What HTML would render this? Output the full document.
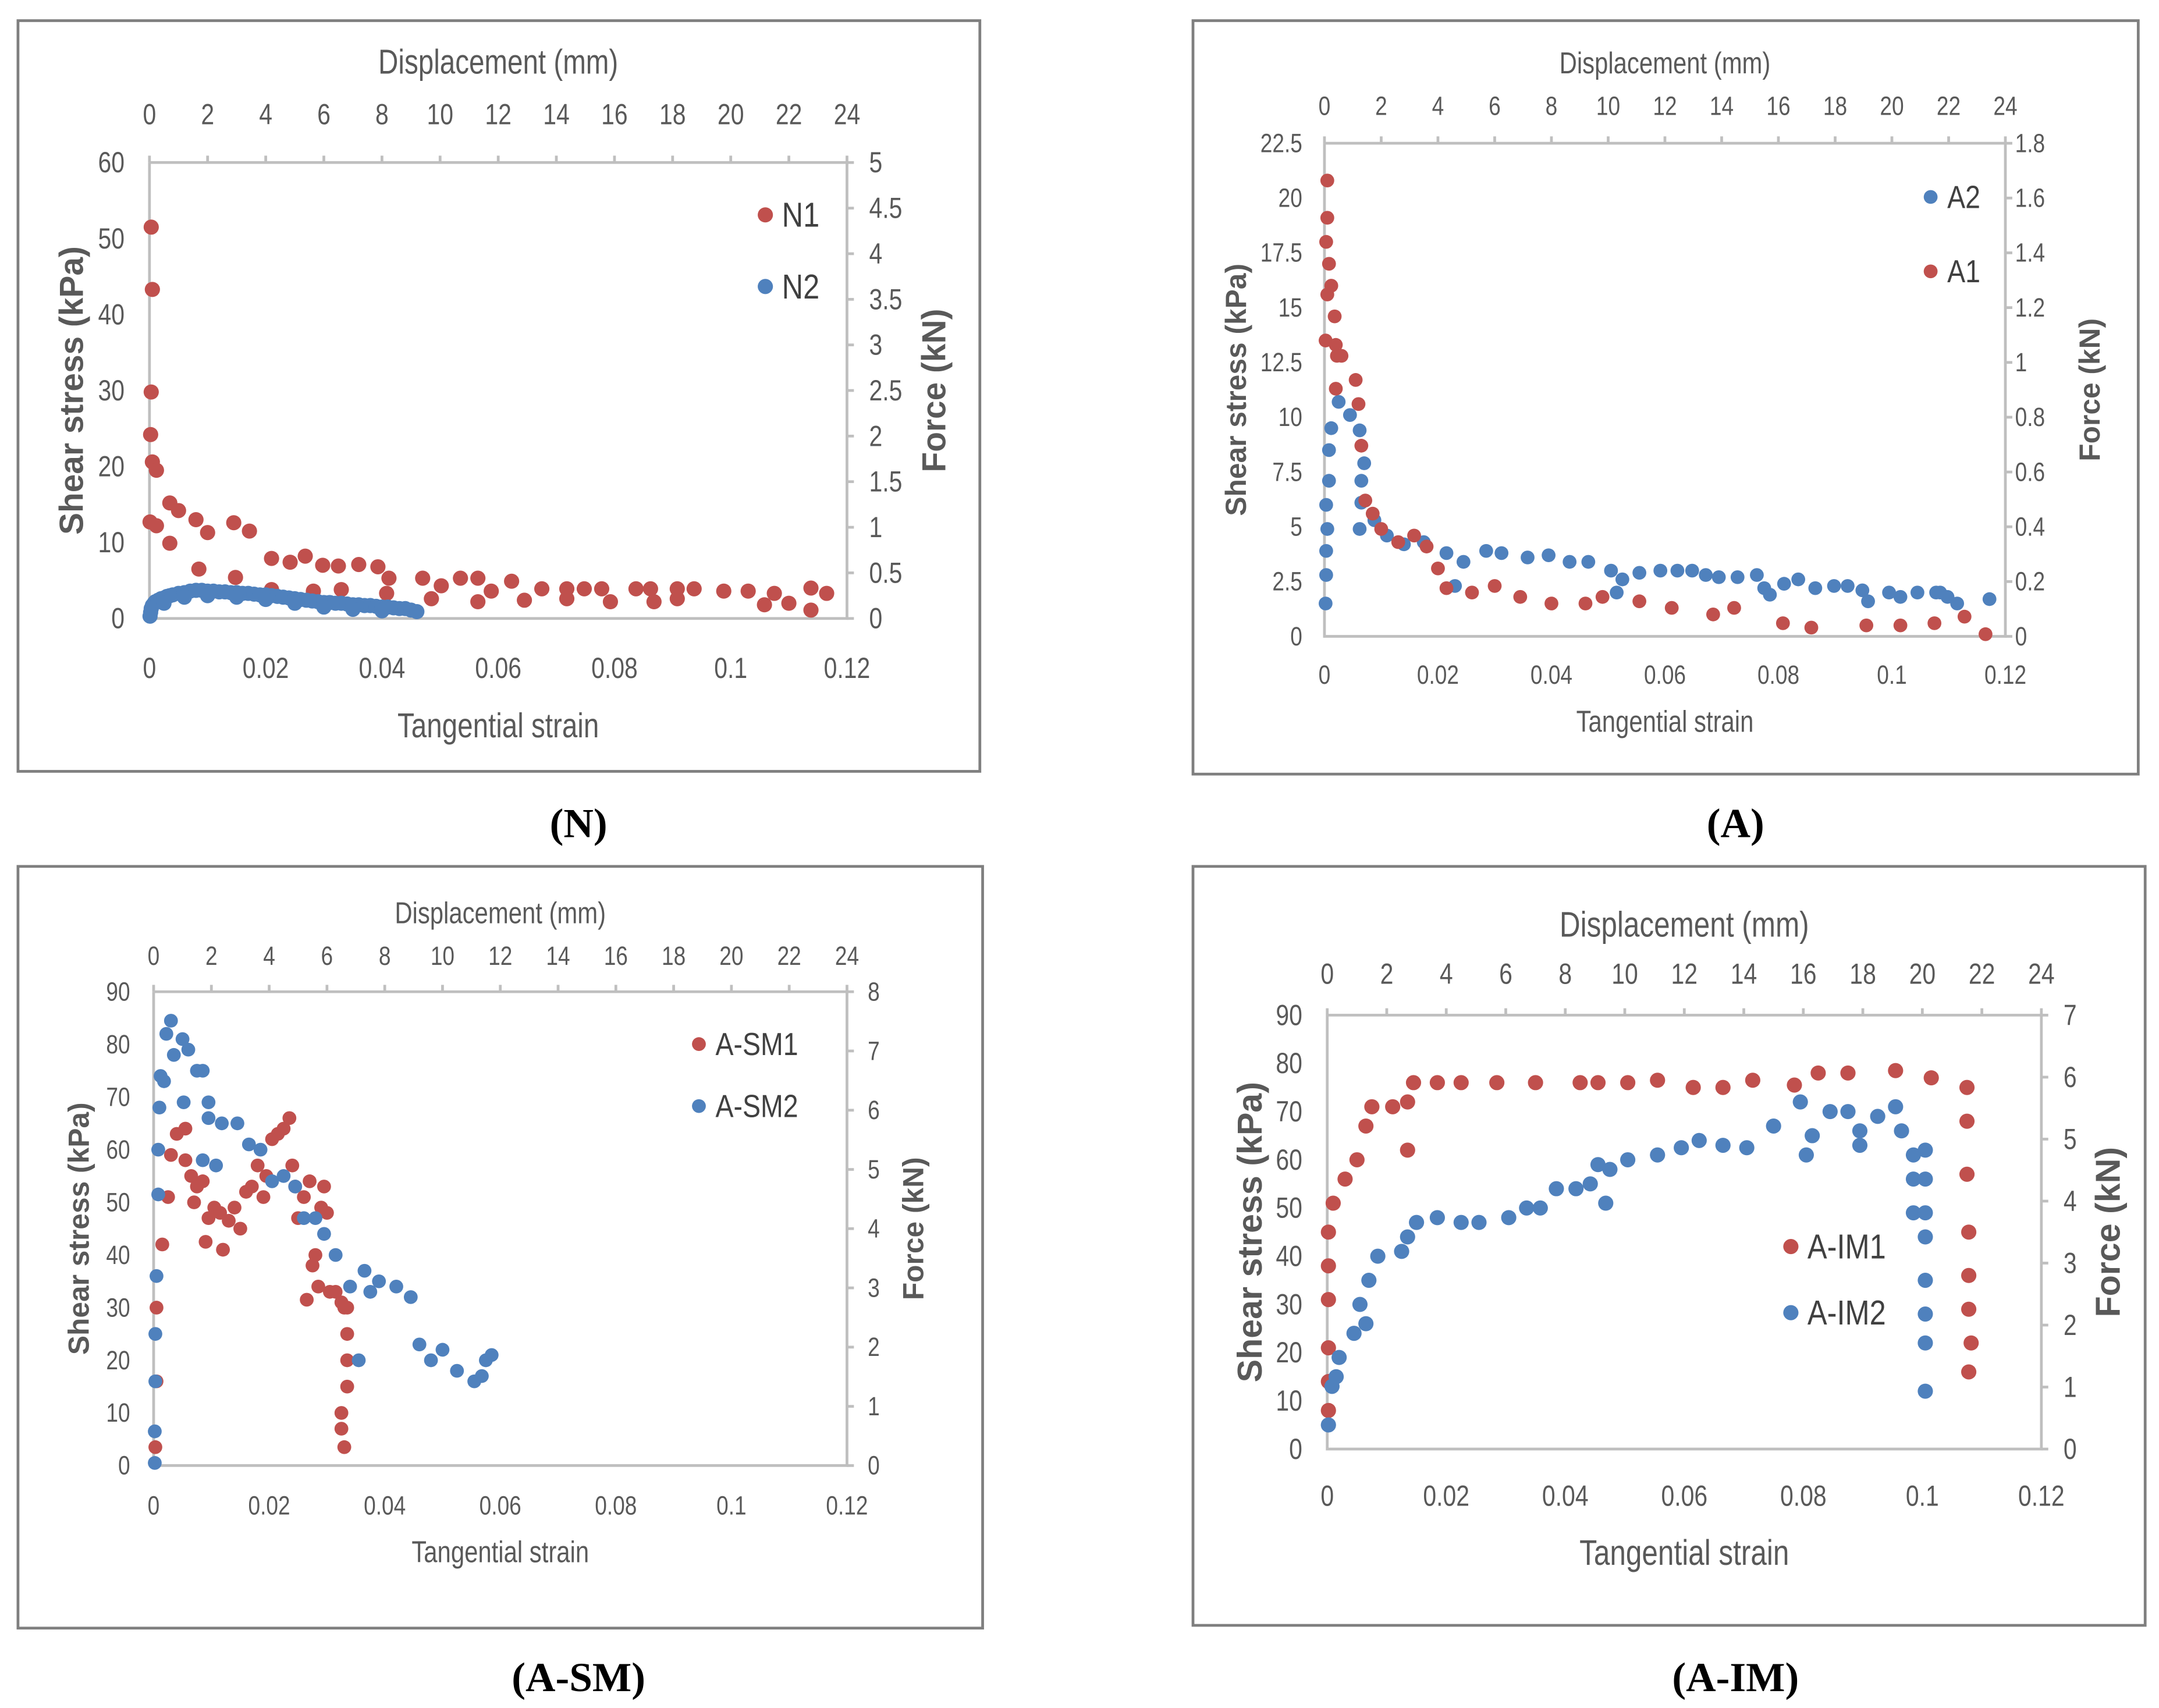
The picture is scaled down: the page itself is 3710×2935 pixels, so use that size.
<!DOCTYPE html>
<html><head><meta charset="utf-8"><style>
html,body{margin:0;padding:0;background:#fff;}
svg{display:block;}
</style></head><body>
<svg id="fig" width="3710" height="2935" viewBox="0 0 1560 1240" preserveAspectRatio="none" xmlns="http://www.w3.org/2000/svg">
<rect x="0" y="0" width="1560" height="1240" fill="#fff"/>
</svg>
<script>
// ---- Data arrays (strain, shear stress kPa) ----
const n1Strain=[0.0003,0.0005,0.0003,0.0002,0.0005,0.0001,0.0012,0.0012,0.0035,0.0035,0.005,0.008,0.0085,0.010,0.0145,0.0148,0.0172,0.0210,0.0210,0.0242,0.0268,0.0282,0.0298,0.0325,0.0330,0.0360,0.0393,0.0412,0.0408,0.0470,0.0485,0.0502,0.0535,0.0565,0.0565,0.0588,0.0623,0.0645,0.0675,0.0718,0.0718,0.0748,0.0778,0.0793,0.0837,0.0862,0.0868,0.0908,0.0908,0.0937,0.0988,0.1030,0.1058,0.1075,0.1100,0.1138,0.1138,0.1165];
const n1Stress=[51.5,43.3,29.8,24.2,20.6,12.7,19.5,12.2,15.2,9.9,14.2,13,6.5,11.3,12.6,5.4,11.5,7.9,3.8,7.4,8.2,3.6,7,6.9,3.8,7.1,6.8,5.3,3.3,5.3,2.6,4.3,5.3,5.3,2.2,3.6,4.9,2.4,3.9,3.9,2.6,3.9,3.9,2.2,3.9,3.9,2.2,3.9,2.6,3.9,3.6,3.6,1.8,3.3,2,4,1.1,3.3];
const n2Strain=[0.0001,0.0002,0.0003,0.0005,0.0008,0.001,0.0015,0.002,0.0025,0.003,0.0035,0.004,0.005,0.006,0.007,0.008,0.009,0.010,0.011,0.012,0.013,0.014,0.015,0.016,0.017,0.018,0.019,0.020,0.021,0.022,0.023,0.024,0.025,0.026,0.027,0.028,0.029,0.030,0.031,0.032,0.033,0.034,0.035,0.036,0.037,0.038,0.039,0.040,0.041,0.042,0.043,0.044,0.045,0.046,0.0025,0.006,0.010,0.015,0.020,0.025,0.030,0.035,0.040];
const n2Stress=[0.3,0.8,1.3,1.7,2.0,2.2,2.4,2.6,2.7,2.9,3.0,3.1,3.3,3.4,3.6,3.7,3.7,3.6,3.6,3.5,3.5,3.4,3.4,3.3,3.3,3.2,3.1,3.1,3.0,2.9,2.8,2.7,2.6,2.5,2.4,2.3,2.2,2.1,2.1,2.0,2.0,1.9,1.8,1.8,1.7,1.7,1.6,1.5,1.5,1.4,1.3,1.3,1.1,0.9,2.0,2.8,3.0,2.8,2.5,2.0,1.5,1.2,1.0];
const a1Strain=[0.0005,0.0005,0.0003,0.0008,0.0012,0.0005,0.0018,0.0002,0.002,0.0022,0.003,0.002,0.0055,0.006,0.0065,0.0072,0.0085,0.010,0.013,0.0158,0.0180,0.020,0.0215,0.026,0.030,0.0345,0.040,0.046,0.049,0.0555,0.0612,0.0685,0.0722,0.0808,0.0858,0.0955,0.1015,0.1075,0.1128,0.1165];
const a1Stress=[20.8,19.1,18,17,16,15.6,14.6,13.5,13.3,12.8,12.8,11.3,11.7,10.6,8.7,6.2,5.6,4.9,4.3,4.6,4.1,3.1,2.2,2,2.3,1.8,1.5,1.5,1.8,1.6,1.3,1,1.3,0.6,0.4,0.5,0.5,0.6,0.9,0.1];
const a2Strain=[0.0002,0.0003,0.0003,0.0005,0.0003,0.0008,0.0008,0.0012,0.0025,0.0045,0.0062,0.007,0.0065,0.0065,0.0062,0.0088,0.011,0.014,0.0175,0.0215,0.023,0.0245,0.0285,0.0312,0.0358,0.0395,0.0432,0.0465,0.0505,0.0515,0.0525,0.0555,0.0592,0.0622,0.0648,0.0672,0.0695,0.0728,0.0762,0.0775,0.0785,0.081,0.0835,0.0865,0.0898,0.0922,0.0948,0.0958,0.0995,0.1015,0.1045,0.1078,0.1085,0.1098,0.1115,0.1172];
const a2Stress=[1.5,2.8,3.9,4.9,6,7.1,8.5,9.5,10.7,10.1,9.4,7.9,7.1,6.1,4.9,5.3,4.6,4.2,4.3,3.8,2.3,3.4,3.9,3.8,3.6,3.7,3.4,3.4,3,2,2.6,2.9,3,3,3,2.8,2.7,2.7,2.8,2.2,1.9,2.4,2.6,2.2,2.3,2.3,2.1,1.6,2,1.8,2,2,2,1.8,1.5,1.7];
const sm1Strain=[0.0003,0.0005,0.0005,0.0015,0.0025,0.003,0.004,0.0055,0.0055,0.0065,0.007,0.0075,0.0085,0.009,0.0095,0.0105,0.0115,0.012,0.013,0.014,0.015,0.016,0.017,0.018,0.019,0.0195,0.0205,0.0215,0.0225,0.0235,0.024,0.0245,0.025,0.026,0.027,0.0265,0.0275,0.028,0.0285,0.029,0.0295,0.030,0.0305,0.0315,0.0325,0.033,0.0335,0.0335,0.0335,0.0335,0.0325,0.0325,0.033];
const sm1Stress=[3.5,16,30,42,51,59,63,64,58,55,50,53,54,42.5,47,49,48,41,46.5,49,45,52,53,57,51,55,62,63,64,66,57,53,47,51,54,31.5,38,40,34,49,53,48,33,33,31,30,30,25,20,15,10,7,3.5];
const sm2Strain=[0.0002,0.0002,0.0003,0.0003,0.0005,0.0008,0.0008,0.001,0.0012,0.0018,0.0022,0.003,0.0035,0.005,0.0052,0.006,0.0075,0.0085,0.0085,0.0095,0.0095,0.0108,0.0118,0.0145,0.0165,0.0185,0.0205,0.0225,0.0245,0.026,0.028,0.0295,0.0315,0.034,0.0355,0.0365,0.0375,0.039,0.042,0.0445,0.046,0.048,0.050,0.0525,0.0555,0.0568,0.0575,0.0585];
const sm2Stress=[0.5,6.5,16,25,36,51.5,60,68,74,73,82,84.5,78,81,69,79,75,75,58,66,69,57,65,65,61,60,54,55,53,47,47,44,40,34,20,37,33,35,34,32,23,20,22,18,16,17,20,21];
const im1Strain=[0.0002,0.0002,0.0002,0.0002,0.0002,0.0002,0.001,0.003,0.005,0.0065,0.0075,0.011,0.0135,0.0135,0.0145,0.0185,0.0225,0.0285,0.035,0.0425,0.0455,0.0505,0.0555,0.0615,0.0665,0.0715,0.0785,0.0825,0.0875,0.0955,0.1015,0.1075,0.1075,0.1075,0.1078,0.1078,0.1078,0.1082,0.1078];
const im1Stress=[8,14,21,31,38,45,51,56,60,67,71,71,62,72,76,76,76,76,76,76,76,76,76.5,75,75,76.5,75.5,78,78,78.5,77,75,68,57,45,36,29,22,16];
const im2Strain=[0.0002,0.0008,0.0015,0.002,0.0045,0.0055,0.0065,0.007,0.0085,0.0125,0.0135,0.015,0.0185,0.0225,0.0255,0.0305,0.0335,0.0358,0.0385,0.0418,0.0442,0.0455,0.0468,0.0475,0.0505,0.0555,0.0595,0.0625,0.0665,0.0705,0.075,0.0795,0.0805,0.0815,0.0845,0.0875,0.0895,0.0895,0.0925,0.0955,0.0965,0.0985,0.0985,0.1005,0.0985,0.1005,0.1005,0.1005,0.1005,0.1005,0.1005,0.1005];
const im2Stress=[5,13,15,19,24,30,26,35,40,41,44,47,48,47,47,48,50,50,54,54,55,59,51,58,60,61,62.5,64,63,62.5,67,72,61,65,70,70,66,63,69,71,66,61,56,56,49,49,62,44,35,28,22,12];
// tick labels
const strainTicks=["0","0.02","0.04","0.06","0.08","0.1","0.12"];
const dispTicks=["0","2","4","6","8","10","12","14","16","18","20","22","24"];
const nLeftTicks=["0","10","20","30","40","50","60"];
const nRightTicks=["0","0.5","1","1.5","2","2.5","3","3.5","4","4.5","5"];
const aLeftTicks=["0","2.5","5","7.5","10","12.5","15","17.5","20","22.5"];
const aRightTicks=["0","0.2","0.4","0.6","0.8","1","1.2","1.4","1.6","1.8"];
const smLeftTicks=["0","10","20","30","40","50","60","70","80","90"];
const smRightTicks=["0","1","2","3","4","5","6","7","8"];
const imLeftTicks=["0","10","20","30","40","50","60","70","80","90"];
const imRightTicks=["0","1","2","3","4","5","6","7"];

const NS="http://www.w3.org/2000/svg";
const svg=document.getElementById('fig');
const RED="#c0504d", BLUE="#4f81bd", GRAY="#bfbfbf", TXT="#595959";
function mk(tag,attrs,parent){const e=document.createElementNS(NS,tag);for(const k in attrs)e.setAttribute(k,attrs[k]);(parent||svg).appendChild(e);return e;}
// cond: horizontal condense factor (Calibri-like narrow look)
function txt(s,x,y,size,anchor,parent,rot,fam,weight,fill,cond){
  const t=mk('text',{x:0,y:0,'font-size':size,'text-anchor':anchor||'middle','dominant-baseline':'central',fill:fill||TXT},parent);
  t.setAttribute('style','font-family:'+(fam||'"Liberation Sans",sans-serif'));
  if(weight)t.setAttribute('font-weight',weight);
  const sx=cond||1;
  let tr='translate('+x+' '+y+')';
  if(rot)tr+=' rotate(-90)';
  if(sx!==1)tr+=' scale('+sx+' 1)';
  t.setAttribute('transform',tr);
  t.textContent=s;return t;}

function chart(c){
  const g=mk('g',{});
  
  
  const fr=mk('rect',{x:c.fx,y:c.fy,width:c.fw,height:c.fh,fill:'#fff',stroke:'#7f7f7f','stroke-width':2},g);
  
  
  const X=v=>c.x0+(c.x1-c.x0)*v/0.12;
  const Y=v=>c.y0-(c.y0-c.y1)*v/c.ymax;
  const ax=mk('path',{d:`M${c.x0} ${c.y1} L${c.x0} ${c.y0} L${c.x1} ${c.y0} L${c.x1} ${c.y1} L${c.x0} ${c.y1}`,fill:'none',stroke:GRAY,'stroke-width':2},g);
  
  
  const K=0.82;
  strainTicks.forEach((s,i)=>{const x=c.x0+(c.x1-c.x0)*i/(strainTicks.length-1);
    const t=txt(s,x,c.yb,c.ts,'middle',g,false,null,null,null,K);
    
    });
  dispTicks.forEach((s,i)=>{const x=c.x0+(c.x1-c.x0)*i/(dispTicks.length-1);
    mk('line',{x1:x,x2:x,y1:c.y1-5,y2:c.y1,stroke:GRAY,'stroke-width':2},g);
    const t=txt(s,x,c.yt,c.ts,'middle',g,false,null,null,null,K);
    
    });
  c.left.forEach((s,i)=>{const y=c.y0-(c.y0-c.y1)*i/(c.left.length-1);
    const t=txt(s,c.xl,y,c.ts,'end',g,false,null,null,null,K);
    
    });
  c.right.forEach((s,i)=>{const y=c.y0-(c.y0-c.y1)*i/(c.right.length-1);
    mk('line',{x1:c.x1,x2:c.x1+5,y1:y,y2:y,stroke:GRAY,'stroke-width':2},g);
    const t=txt(s,c.xr,y,c.ts,'start',g,false,null,null,null,K);
    
    });
  let t;
  t=txt('Displacement (mm)',(c.x0+c.x1)/2,c.tt,c.tsz,'middle',g,false,null,null,null,0.8);
  
  t=txt('Tangential strain',(c.x0+c.x1)/2,c.bt,c.tsz,'middle',g,false,null,null,null,0.8);
  
  t=txt('Shear stress (kPa)',c.lt,(c.y0+c.y1)/2,c.tsz-1,'middle',g,true,null,'bold');
  
  t=txt('Force (kN)',c.rt,(c.y0+c.y1)/2,c.tsz-1,'middle',g,true,null,'bold');
  
  c.series.forEach(s=>{
    const sg=mk('g',{},g);
    
    
    s.xs.forEach((v,i)=>{const p=mk('circle',{cx:X(v),cy:Y(s.ys[i]),r:c.r,fill:s.color},sg);
      
      });
    const lg=mk('g',{},g);
    
    
    mk('circle',{cx:s.lx,cy:s.ly,r:c.r,fill:s.color},lg);
    txt(s.label,s.lx+12,s.ly,c.lsz,'start',lg,false,null,null,'#404040',0.85);
  });
  const cap=txt(c.caption,c.cx,c.cy,30,'middle',null,false,'"Liberation Serif",serif','bold','#000');
  
  
}

chart({name:'chart-n',fx:13,fy:15,fw:695,fh:545,x0:108,x1:612,y0:449,y1:118,ymax:60,
  yb:485,yt:83,xl:90,xr:628,tt:45,bt:527,lt:52,rt:675,ts:21,tsz:25,lsz:25,r:5.5,
  left:nLeftTicks,right:nRightTicks,caption:'(N)',cx:418,cy:598,
  series:[{label:'N1',xs:n1Strain,ys:n1Stress,color:RED,lx:553,ly:156},
          {label:'N2',xs:n2Strain,ys:n2Stress,color:BLUE,lx:553,ly:208}]});
chart({name:'chart-a',fx:862,fy:15,fw:683,fh:547,x0:957,x1:1449,y0:462,y1:104,ymax:22.5,
  yb:490,yt:77,xl:941,xr:1456,tt:46,bt:524,lt:893,rt:1510,ts:19,tsz:22,lsz:23,r:5,
  left:aLeftTicks,right:aRightTicks,caption:'(A)',cx:1254,cy:598,
  series:[{label:'A2',xs:a2Strain,ys:a2Stress,color:BLUE,lx:1395,ly:143},
          {label:'A1',xs:a1Strain,ys:a1Stress,color:RED,lx:1395,ly:197}]});
chart({name:'chart-a-sm',fx:13,fy:629,fw:697,fh:553,x0:111,x1:612,y0:1064,y1:720,ymax:90,
  yb:1093,yt:694,xl:94,xr:627,tt:663,bt:1127,lt:57,rt:660,ts:19,tsz:22,lsz:23,r:5,
  left:smLeftTicks,right:smRightTicks,caption:'(A-SM)',cx:418,cy:1218,
  series:[{label:'A-SM1',xs:sm1Strain,ys:sm1Stress,color:RED,lx:505,ly:758},
          {label:'A-SM2',xs:sm2Strain,ys:sm2Stress,color:BLUE,lx:505,ly:803}]});
chart({name:'chart-a-im',fx:862,fy:629,fw:688,fh:551,x0:959,x1:1475,y0:1052,y1:737,ymax:90,
  yb:1086,yt:707,xl:941,xr:1491,tt:671,bt:1127,lt:903,rt:1523,ts:21,tsz:26,lsz:25,r:5.5,
  left:imLeftTicks,right:imRightTicks,caption:'(A-IM)',cx:1254,cy:1218,
  series:[{label:'A-IM1',xs:im1Strain,ys:im1Stress,color:RED,lx:1294,ly:905},
          {label:'A-IM2',xs:im2Strain,ys:im2Stress,color:BLUE,lx:1294,ly:953}]});
</script>
</body></html>
